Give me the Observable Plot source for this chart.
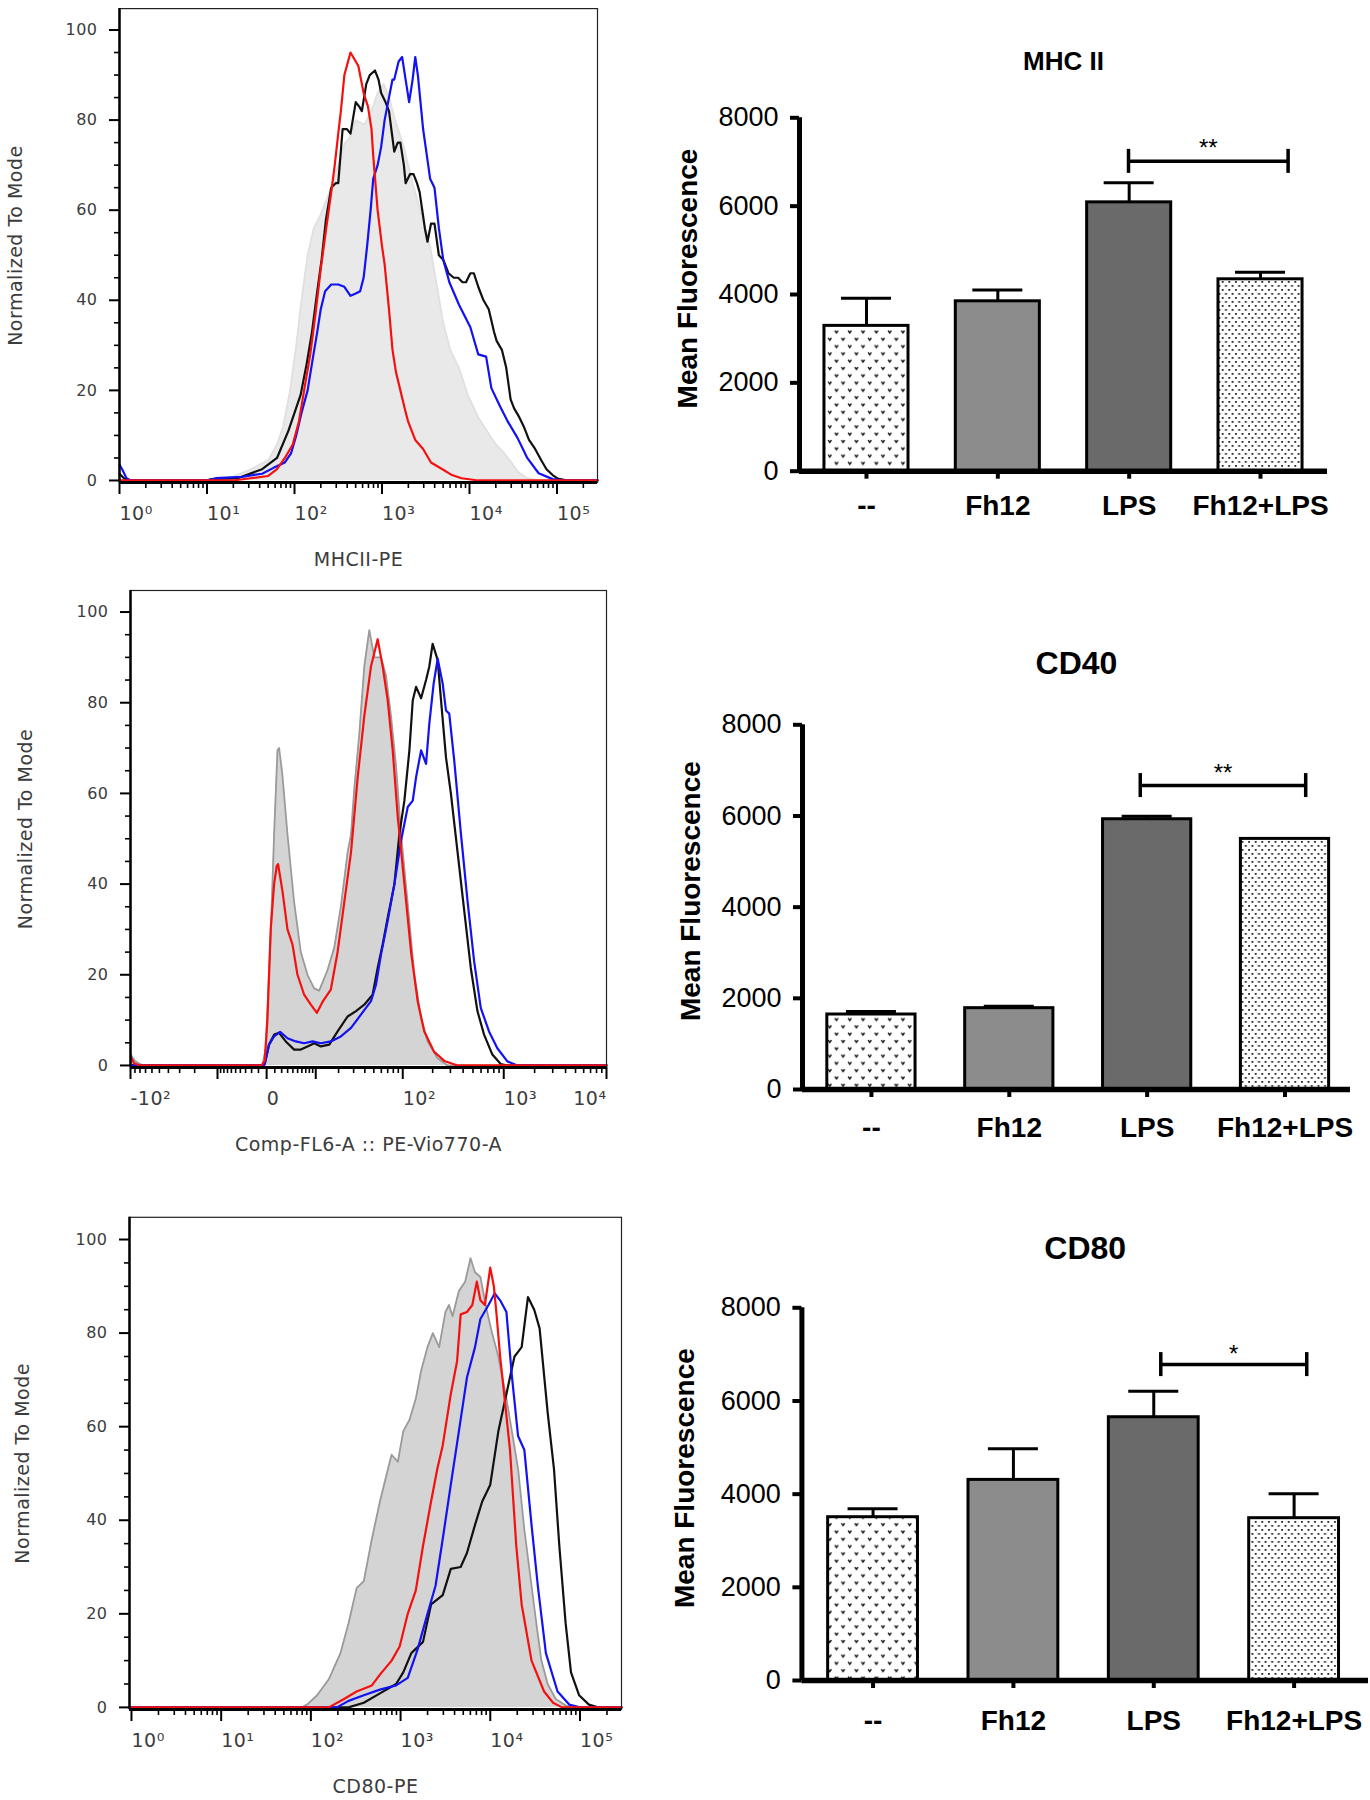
<!DOCTYPE html>
<html>
<head>
<meta charset="utf-8">
<script src="https://cdn.jsdelivr.net/npm/d3@7"></script>
<script src="https://cdn.jsdelivr.net/npm/@observablehq/plot@0.6"></script>
<style>
  body { margin: 0; background: #fff; }
  #page { position: relative; width: 1370px; height: 1800px; overflow: hidden; background: #fff; }
  .panel { position: absolute; }
</style>
</head>
<body>
<svg width="0" height="0" style="position:absolute">
  <defs>
    <pattern id="vpat" width="13.3" height="14.6" patternUnits="userSpaceOnUse">
      <rect width="13.3" height="14.6" fill="#fff"/>
      <path d="M2,2 l1.6,2.4 l1.6,-2.4 M8.65,9.3 l1.6,2.4 l1.6,-2.4" stroke="#111" stroke-width="1.4" fill="none"/>
    </pattern>
    <pattern id="dotpat" width="6.6" height="8" patternUnits="userSpaceOnUse">
      <rect width="6.6" height="8" fill="#fff"/>
      <rect x="1" y="1" width="1.8" height="1.8" fill="#222"/>
      <rect x="4.3" y="5" width="1.8" height="1.8" fill="#222"/>
    </pattern>
  </defs>
</svg>
<div id="page"></div>
<script>
// ---------------- DATA ----------------
// Flow cytometry histograms: [log10(intensity), % of mode]
const mhcGray = [[0,0],[1.0,0],[1.3,0.8],[1.5,2.5],[1.7,4.5],[1.8,8],[1.87,12],[1.95,20],[2.02,30],[2.08,40],[2.15,50],[2.22,56],[2.3,59],[2.4,64],[2.5,70],[2.58,75],[2.63,76],[2.7,80],[2.8,79],[2.88,82],[2.95,86],[3.02,88],[3.08,85],[3.15,80],[3.25,74],[3.35,66],[3.45,59],[3.55,52],[3.62,44],[3.7,35],[3.78,29],[3.88,25],[3.98,19],[4.1,14],[4.2,11],[4.3,8],[4.4,6],[4.48,4],[4.55,2],[4.65,0.6],[4.8,0],[5.463,0]];
const mhcRed = [[0,0],[1.3,0],[1.5,0.5],[1.7,1],[1.8,2.5],[1.89,5],[1.98,8],[2.05,13],[2.11,20],[2.18,28],[2.24,37],[2.3,47],[2.37,57],[2.42,64],[2.46,70],[2.5,77],[2.53,82],[2.57,90],[2.64,95],[2.7,93],[2.73,92],[2.79,86],[2.84,83],[2.88,78],[2.9,72],[2.95,60],[3.0,52],[3.03,48],[3.08,38],[3.12,29],[3.16,24],[3.21,20],[3.26,16],[3.3,13],[3.38,9],[3.47,7],[3.56,4],[3.69,2.5],[3.8,1.2],[3.91,0.5],[4.1,0],[5.463,0]];
const mhcBlue = [[0,3.5],[0.03,2.5],[0.08,0.5],[0.13,0],[1.0,0],[1.1,0.5],[1.4,0.8],[1.63,1.5],[1.76,2.8],[1.89,4],[1.96,6],[2.02,10],[2.08,15],[2.15,20],[2.2,26],[2.26,33],[2.3,38],[2.35,42],[2.42,43.5],[2.5,43.5],[2.57,43],[2.64,41],[2.7,41.5],[2.75,42],[2.79,45],[2.83,52],[2.87,60],[2.9,67],[2.95,70],[2.99,74],[3.03,80],[3.08,85],[3.12,89],[3.14,89],[3.19,93],[3.23,94],[3.27,89],[3.31,84],[3.35,89],[3.38,94],[3.41,90],[3.47,78],[3.55,67],[3.6,65],[3.65,56],[3.7,49],[3.77,44],[3.88,39],[4.01,34],[4.1,28],[4.19,27.5],[4.25,20.5],[4.35,16.4],[4.44,13],[4.55,9.4],[4.66,5],[4.79,1.6],[4.95,0.3],[5.1,0],[5.463,0]];
const mhcBlack = [[0,1.5],[0.05,0.5],[0.1,0],[1.0,0],[1.05,0.3],[1.35,0.5],[1.63,2.5],[1.8,5],[1.93,11],[2.0,15],[2.07,19],[2.14,26],[2.2,33],[2.26,42],[2.31,49],[2.36,58],[2.42,65],[2.47,66],[2.5,66],[2.55,78],[2.6,78],[2.64,77],[2.7,84],[2.74,83],[2.77,82],[2.82,88],[2.86,90],[2.92,91],[2.96,89],[2.99,86],[3.04,84],[3.08,82],[3.12,76],[3.14,73],[3.18,75],[3.21,75],[3.25,70],[3.27,66],[3.32,68],[3.36,68],[3.4,66],[3.43,64],[3.49,56],[3.52,53],[3.56,57],[3.6,57],[3.65,50],[3.7,49],[3.76,46],[3.82,45],[3.87,45],[3.92,44],[3.96,44],[4.01,46],[4.05,46],[4.1,43],[4.16,40],[4.22,38],[4.28,33],[4.31,31],[4.37,29],[4.42,25],[4.47,18],[4.51,16],[4.57,14],[4.62,12],[4.68,9],[4.75,7],[4.82,4.5],[4.88,2.5],[4.95,1.2],[5.01,0.4],[5.12,0],[5.463,0]];

// CD40 histogram: [intensity (biexponential axis), % of mode]
const cd40Gray = [[-100,2.5],[-90,1],[-75,0],[-0.5,0],[-0.1,3.8],[0.48,29],[0.91,51],[1.37,69.5],[1.61,70],[2.12,64],[2.97,51],[4.25,36],[5.74,25],[7.47,20],[9.48,17],[11.2,16.5],[14.5,21],[17.7,26],[21.3,35],[25.6,47],[28,51],[30.5,61],[34.7,73],[39.4,88],[44.7,96],[50.6,90],[59.6,90],[67.2,86],[75.8,77],[85.4,66],[96.1,51],[112,36],[131,20],[153,10.5],[178,5.3],[224,1.6],[281,0],[10000,0]];
const cd40Red = [[-100,2],[-92,0.5],[-80,0],[-0.6,0],[-0.22,1],[0.087,10],[0.48,30],[0.91,40],[1.27,44],[1.46,44.4],[2.12,38.5],[2.97,30],[3.91,26.7],[4.97,20],[6.57,15.6],[8.44,13.4],[10.4,11.6],[12.45,14],[16,16.7],[19.45,25],[23.4,36],[28,47],[33.3,63.5],[39.4,77],[46.6,88],[54.9,94],[62,88],[70,80.5],[78.9,69.5],[88.8,55],[104,40],[121.5,25],[142,14],[165,7.5],[207,3],[261,1],[353,0],[10000,0]];
const cd40Black = [[-100,0],[-0.3,0],[-0.2,0.5],[0.28,4.6],[0.91,6.8],[1.61,7.2],[2.67,5.3],[4.25,3.5],[5.74,3.5],[7.47,4.2],[9.48,4.9],[11.8,4.2],[15.3,4.6],[19.45,7.5],[25.6,10.8],[31.9,12],[39.4,13.4],[48.5,15.6],[54.9,21.5],[62,26.7],[70,32.6],[82.1,40],[92.4,51],[103.9,58.4],[116.8,69.5],[126.3,80.5],[136.5,83.5],[153.3,81],[171.8,85],[185.2,88],[199.9,93],[224.3,89.4],[242.2,80.5],[271,68],[303,60],[353,47],[411,34],[476,21.5],[553,12],[642,6.8],[774,2.4],[934,0.3],[1085,0],[10000,0]];
const cd40Blue = [[-100,0],[-0.3,0],[-0.2,0.5],[0.28,4.6],[0.91,6.4],[1.76,7.4],[2.97,6],[4.6,5.3],[6.57,4.9],[8.95,5.3],[11.8,4.9],[16,5.3],[21.3,6.4],[28,8.3],[36.2,11.2],[46.6,14.2],[52.7,17.8],[59.6,24.5],[70,31.9],[82.1,40],[96.1,49.6],[112.4,57],[126.3,58.4],[136.5,63.6],[153.3,69.5],[171.8,66.5],[185.2,75.4],[204.5,84.2],[224.3,89.7],[251.5,84.2],[271,78.3],[292,77.6],[327,67.3],[381,51],[442,36.3],[513,23],[596,12.7],[718,7.5],[866,3.8],[1085,0.9],[1360,0],[10000,0]];

// CD80 histogram: [log10(intensity), % of mode]
const cd80Gray = [[-0.022,0],[1.9,0],[1.97,0.8],[2.07,2.6],[2.2,6],[2.33,11.6],[2.42,18],[2.51,25.5],[2.59,27],[2.68,36],[2.77,44],[2.86,51],[2.9,54],[2.97,52.5],[3.03,59],[3.1,61.5],[3.17,66],[3.23,72],[3.3,77],[3.36,80],[3.43,77],[3.5,84.5],[3.54,86],[3.58,83.6],[3.65,89],[3.72,91],[3.78,96],[3.83,93],[3.89,92],[3.96,85],[4.02,80],[4.09,75],[4.18,66],[4.25,58],[4.31,51],[4.38,38],[4.46,26],[4.52,17],[4.57,10],[4.64,5],[4.73,1.8],[4.85,0.3],[4.95,0],[5.463,0]];
const cd80Red = [[-0.022,0],[2.2,0],[2.37,1.8],[2.51,3.4],[2.68,4.7],[2.77,7],[2.9,10],[2.99,13],[3.08,20],[3.17,25],[3.25,34.5],[3.34,44],[3.41,51],[3.47,56],[3.56,67],[3.63,74],[3.67,84],[3.74,84.5],[3.8,86],[3.85,91],[3.89,87],[3.94,86],[4.0,94],[4.04,90],[4.07,84],[4.11,75],[4.16,66],[4.22,55],[4.29,34.5],[4.35,22],[4.46,10],[4.6,3.4],[4.7,1],[4.8,0],[5.463,0]];
const cd80Blue = [[-0.022,0],[2.29,0],[2.42,1.4],[2.59,2.6],[2.77,3.8],[2.95,4.7],[3.08,6.3],[3.19,12.4],[3.3,20],[3.39,26],[3.47,36],[3.56,47.6],[3.65,59],[3.74,70.5],[3.83,77],[3.89,83],[3.98,86],[4.05,88.5],[4.11,87],[4.18,84.5],[4.24,71],[4.31,58],[4.38,55],[4.46,39],[4.53,26],[4.62,11.6],[4.75,3.4],[4.88,0.6],[5.0,0],[5.463,0]];
const cd80Black = [[-0.022,0],[2.42,0],[2.59,1],[2.77,3],[2.95,5],[3.03,7.5],[3.12,11.6],[3.25,14],[3.34,22],[3.47,24],[3.56,29.6],[3.67,30],[3.74,33],[3.83,39],[3.91,44],[4.0,47.6],[4.09,59],[4.18,67],[4.27,75],[4.31,76],[4.35,77],[4.42,87.7],[4.49,85],[4.55,81],[4.64,63],[4.71,51],[4.77,34.5],[4.84,18],[4.9,7.5],[4.99,2.6],[5.1,0.6],[5.2,0],[5.463,0]];

// Histogram axis texts
const histYLabel = "Normalized To Mode";
const histYTicks = [0, 20, 40, 60, 80, 100];
const logTicks = [1, 10, 100, 1000, 10000, 100000];
const logTickLabels = ["10\u2070", "10\u00b9", "10\u00b2", "10\u00b3", "10\u2074", "10\u2075"];
const biexTicks = [-100, 0, 100, 1000];
const biexTickLabels = ["-10\u00b2", "0", "10\u00b2", "10\u00b3"];
const biexEndTick = [10000];
const biexEndLabel = ["10\u2074"];

// Bar charts: mean fluorescence and SEM
const groups = ["--", "Fh12", "LPS", "Fh12+LPS"];
const mhcMean = [3290, 3846, 6086, 4344];
const mhcSem = [624, 258, 446, 158];
const cd40Mean = [1645, 1784, 5928, 5497];
const cd40Sem = [66, 43, 66, 0];
const cd80Mean = [3505, 4306, 5651, 3484];
const cd80Sem = [179, 666, 557, 522];
const mhcSig = {from: "LPS", to: "Fh12+LPS", label: "**", y: 7014};
const cd40Sig = {from: "LPS", to: "Fh12+LPS", label: "**", y: 6667};
const cd80Sig = {from: "LPS", to: "Fh12+LPS", label: "*", y: 6781};
const barYTicks = [0, 2000, 4000, 6000, 8000];
const barYLabel = "Mean Fluorescence";

// ---------------- STYLES ----------------
const barFills = ["url(#vpat)", "#8c8c8c", "#6a6a6a", "url(#dotpat)"];
const histFont = "'DejaVu Sans', Verdana, sans-serif";
const barFont = "'Liberation Sans', Arial, Helvetica, sans-serif";

const page = document.getElementById("page");
function place(node, left, top) {
  const div = document.createElement("div");
  div.className = "panel";
  div.style.left = left + "px";
  div.style.top = top + "px";
  div.appendChild(node);
  page.appendChild(div);
}

function histogram(o) {
  const rows = arr => arr.map(([v, p]) => ({v: o.xOf(v), p}));
  const [d0, d1] = o.xDomain;
  const yMin = -0.45, yMax = 104.75;
  const inX = t => t >= d0 && t <= d1;
  const yMinor = d3.range(5, 101, 5).filter(t => t % 20 !== 0);
  const xScale = o.xType === "symlog"
    ? {type: "symlog", constant: o.constant, domain: o.xDomain}
    : {type: "log", domain: o.xDomain};
  const textColor = "#3c3c3c";
  const marks = [
    Plot.areaY(rows(o.gray), {x: "v", y1: 0, y2: "p", fill: o.grayFill}),
    Plot.line(rows(o.gray), {x: "v", y: "p", stroke: o.grayStroke, strokeWidth: 1.8}),
    Plot.line(rows(o.black), {x: "v", y: "p", stroke: "#111", strokeWidth: 2.2, strokeLinejoin: "round"}),
    Plot.line(rows(o.blue), {x: "v", y: "p", stroke: "#1212f2", strokeWidth: 2.2, strokeLinejoin: "round"}),
    Plot.line(rows(o.red), {x: "v", y: "p", stroke: "#f51010", strokeWidth: 2.2, strokeLinejoin: "round"}),
    Plot.frame({stroke: "#222", strokeWidth: 1.2}),
    Plot.ruleY([yMin], {stroke: "#000", strokeWidth: 3}),
    Plot.ruleX([d0], {stroke: "#000", strokeWidth: 2.5}),
    Plot.axisY({ticks: histYTicks, tickSize: 10, tickPadding: 12, tickFormat: d => String(d), fontSize: 16, strokeWidth: 2, stroke: "#000", fill: textColor, label: null}),
    Plot.axisY({ticks: yMinor, tickSize: 5, tickFormat: () => "", strokeWidth: 1.6, stroke: "#000", label: null}),
    Plot.axisX({ticks: o.labelTicks, tickSize: 12, tickPadding: 12, tickFormat: (d) => o.labelMap.get(d), textAnchor: "start", fontSize: 19, strokeWidth: 2, stroke: "#000", fill: textColor, label: null}),
    Plot.axisX({ticks: o.minorTicks.filter(inX), tickSize: 6, tickFormat: () => "", strokeWidth: 1.6, stroke: "#000", label: null}),
    Plot.text([o.xLabel], {frameAnchor: "bottom", dy: 77, lineAnchor: "middle", textAnchor: "middle", text: d => d, fontSize: 19, fill: textColor}),
    Plot.text([histYLabel], {frameAnchor: "left", dx: o.yLabelDx, rotate: -90, lineAnchor: "middle", textAnchor: "middle", text: d => d, fontSize: 19, fill: textColor})
  ];
  if (o.longTicks) marks.push(Plot.axisX({ticks: o.longTicks, tickSize: 12, tickFormat: () => "", strokeWidth: 2, stroke: "#000", label: null}));
  if (o.endTicks) marks.push(Plot.axisX({ticks: o.endTicks, tickSize: 12, tickPadding: 12, tickFormat: d => o.labelMap.get(d), textAnchor: "end", fontSize: 19, strokeWidth: 2, stroke: "#000", fill: textColor, label: null}));
  return Plot.plot({
    width: o.width, height: o.height,
    marginTop: o.m[0], marginRight: o.m[1], marginBottom: o.m[2], marginLeft: o.m[3],
    x: xScale,
    y: {domain: [yMin, yMax]},
    style: {fontFamily: histFont, letterSpacing: "0.5px", background: "transparent", overflow: "visible"},
    marks
  });
}

function barChart(o) {
  const rows = groups.map((g, i) => ({i, g, mean: o.mean[i], top: o.mean[i] + o.sem[i]}));
  const withErr = rows.filter(d => d.top > d.mean);
  const step = (o.width - o.m[1] - o.m[3]) / (o.xDomain[1] - o.xDomain[0]);
  const pxPerY = (o.height - o.m[0] - o.m[2]) / 8000;
  const hw = 0.32, cap = 25 / step;
  const sx1 = groups.indexOf(o.sig.from) + o.bracket[0];
  const sx2 = groups.indexOf(o.sig.to) + o.bracket[1];
  const tickLen = 12 / pxPerY;
  return Plot.plot({
    width: o.width, height: o.height,
    marginTop: o.m[0], marginRight: o.m[1], marginBottom: o.m[2], marginLeft: o.m[3],
    x: {domain: o.xDomain},
    y: {domain: [0, 8000]},
    style: {fontFamily: barFont, background: "transparent", color: "#000", overflow: "visible"},
    marks: [
      ...rows.map((r, k) => Plot.rect([r], {x1: d => d.i - hw, x2: d => d.i + hw, y1: 0, y2: "mean", fill: barFills[k], stroke: "#000", strokeWidth: 3})),
      Plot.ruleX(withErr, {x: "i", y1: "mean", y2: "top", stroke: "#000", strokeWidth: 3}),
      Plot.ruleY(withErr, {y: "top", x1: d => d.i - cap, x2: d => d.i + cap, stroke: "#000", strokeWidth: 3}),
      Plot.ruleY([o.sig], {y: "y", x1: () => sx1, x2: () => sx2, stroke: "#000", strokeWidth: 3.5}),
      Plot.ruleX([sx1, sx2], {x: d => d, y1: o.sig.y - tickLen, y2: o.sig.y + tickLen, stroke: "#000", strokeWidth: 3.5}),
      Plot.text([o.sig], {x: () => (sx1 + sx2) / 2, y: "y", text: "label", dy: o.starDy, fontSize: 24}),
      Plot.ruleY([0], {stroke: "#000", strokeWidth: 5.5}),
      Plot.ruleX([o.xDomain[0]], {stroke: "#000", strokeWidth: 5}),
      Plot.axisY({ticks: barYTicks, tickSize: 9, tickPadding: 12, tickFormat: d => String(d), fontSize: 27, strokeWidth: 4, stroke: "#000", label: null}),
      Plot.axisX({ticks: [0, 1, 2, 3], tickSize: 8, tickPadding: o.labelPad, tickFormat: i => groups[i], fontSize: 28, fontWeight: "bold", strokeWidth: 4, stroke: "#000", label: null}),
      Plot.text([o.title], {frameAnchor: "top", dy: -o.titleGap, lineAnchor: "middle", textAnchor: "middle", text: d => d, fontSize: o.titleSize, fontWeight: "bold"}),
      Plot.text([barYLabel], {frameAnchor: "left", dx: o.yLabelDx, dy: -16, rotate: -90, lineAnchor: "middle", textAnchor: "middle", text: d => d, fontSize: 28, fontWeight: "bold"})
    ]
  });
}

const logMinor = d3.range(0, 6).flatMap(k => d3.range(2, 10).map(m => m * 10 ** k));
const logLabelMap = new Map(logTicks.map((t, i) => [t, logTickLabels[i]]));
const biexLabelMap = new Map([...biexTicks.map((t, i) => [t, biexTickLabels[i]]), ...biexEndTick.map((t, i) => [t, biexEndLabel[i]])]);
const biexMinor = [...d3.range(-90, -10, 10), ...d3.range(-9, 0), ...d3.range(1, 10), ...d3.range(20, 100, 10), ...d3.range(200, 1000, 100), ...d3.range(2000, 10000, 1000)];

// MHCII histogram
place(histogram({
  width: 640, height: 590, m: [8.1, 43, 108, 119],
  xType: "log", xDomain: [1, 10 ** 5.463], xOf: v => 10 ** v,
  gray: mhcGray, red: mhcRed, blue: mhcBlue, black: mhcBlack,
  grayFill: "#e9e9e9", grayStroke: "#e0e0e0",
  labelTicks: logTicks, labelMap: logLabelMap, minorTicks: logMinor,
  xLabel: "MHCII-PE", yLabelDx: -104
}), 0, 0);

// CD40 histogram
place(histogram({
  width: 640, height: 600, m: [10, 34, 113, 130],
  xType: "symlog", constant: 5, xDomain: [-100, 10000], xOf: v => v,
  gray: cd40Gray, red: cd40Red, blue: cd40Blue, black: cd40Black,
  grayFill: "#d4d4d4", grayStroke: "#9a9a9a",
  labelTicks: biexTicks, labelMap: biexLabelMap, minorTicks: biexMinor,
  longTicks: [-10, 10], endTicks: biexEndTick,
  xLabel: "Comp-FL6-A :: PE-Vio770-A", yLabelDx: -105
}), 0, 580);

// CD80 histogram
place(histogram({
  width: 640, height: 610, m: [26.8, 19, 91, 129],
  xType: "log", xDomain: [10 ** -0.022, 10 ** 5.463], xOf: v => 10 ** v,
  gray: cd80Gray, red: cd80Red, blue: cd80Blue, black: cd80Black,
  grayFill: "#d4d4d4", grayStroke: "#9a9a9a",
  labelTicks: logTicks, labelMap: logLabelMap, minorTicks: logMinor,
  xLabel: "CD80-PE", yLabelDx: -107
}), 0, 1190);

// Bar charts
place(barChart({
  width: 730, height: 580, m: [117.3, 43, 109.3, 159], xDomain: [-0.51, 3.51],
  mean: mhcMean, sem: mhcSem, sig: mhcSig, bracket: [-0.005, 0.21], starDy: -13,
  title: "MHC II", titleSize: 26, titleGap: 56, labelPad: 16, yLabelDx: -111
}), 640, 0);

place(barChart({
  width: 730, height: 580, m: [124.3, 20, 91, 162], xDomain: [-0.5, 3.475],
  mean: cd40Mean, sem: cd40Sem, sig: cd40Sig, bracket: [-0.05, 0.15], starDy: -12,
  title: "CD40", titleSize: 32, titleGap: 61, labelPad: 20, yLabelDx: -111
}), 640, 600);

place(barChart({
  width: 730, height: 600, m: [107.3, 2, 120, 161.4], xDomain: [-0.507, 3.53],
  mean: cd80Mean, sem: cd80Sem, sig: cd80Sig, bracket: [0.05, 0.09], starDy: -10,
  title: "CD80", titleSize: 32, titleGap: 59, labelPad: 22, yLabelDx: -117
}), 640, 1200);
</script>
</body>
</html>
